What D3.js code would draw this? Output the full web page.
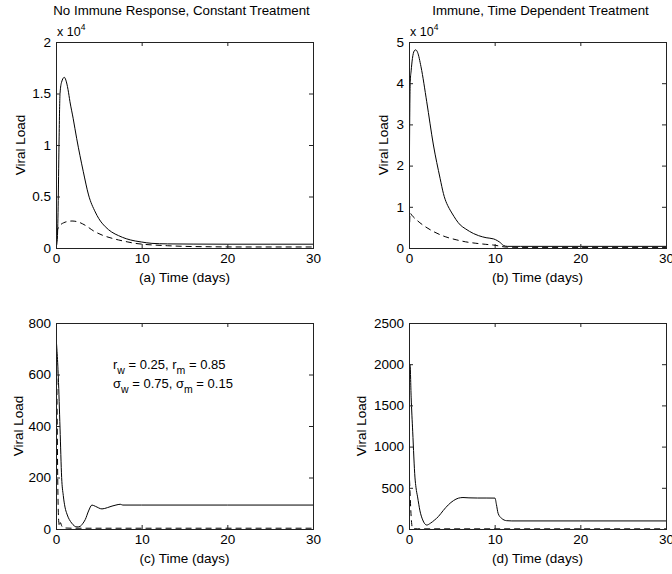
<!DOCTYPE html>
<html>
<head>
<meta charset="utf-8">
<script src="https://cdn.jsdelivr.net/npm/d3@7/dist/d3.min.js"></script>
<style>
  body { margin: 0; background: #fff; }
  svg { font-family: "Liberation Sans", Arial, Helvetica, sans-serif; }
</style>
</head>
<body>
<svg id="chart" width="672" height="574"></svg>
<script>
// (a) no immune response, constant treatment
const aSolidT = [0, 0.03, 0.15, 0.25, 0.35, 0.47, 0.65, 0.97, 1.15, 1.4, 1.63, 2.0, 2.41, 3.19, 3.8, 4.58, 5.0, 5.75, 6.5, 7.3, 8.2, 9.25, 10, 11.2, 13, 16, 20, 25, 30];
const aSolidV = [3800, 200, 800, 4000, 10000, 15000, 16100, 16570, 16300, 15400, 14200, 12600, 10650, 7400, 5150, 3500, 2850, 2070, 1550, 1200, 900, 680, 580, 450, 400, 380, 370, 370, 370];
const aDashT = [0, 0.03, 0.1, 0.3, 0.5, 0.9, 1.4, 1.87, 2.5, 3.42, 4.4, 5.37, 6.3, 7.3, 8.3, 9.25, 10.2, 11.2, 13, 15, 18, 22, 30];
const aDashV = [2500, 1000, 1500, 2000, 2230, 2450, 2580, 2620, 2550, 2200, 1650, 1260, 1000, 780, 600, 450, 360, 300, 220, 160, 120, 100, 100];

// (b) immune, time dependent treatment
const bSolidT = [0, 0.03, 0.06, 0.1, 0.15, 0.25, 0.4, 0.6, 0.78, 1.0, 1.4, 2.07, 2.85, 3.63, 4.02, 4.8, 5.0, 5.98, 6.56, 7.54, 8.12, 9.0, 9.88, 10.3, 10.6, 11.05, 11.5, 13, 20, 30];
const bSolidV = [5000, 11000, 24000, 35000, 40500, 43000, 46000, 47800, 48100, 47500, 44000, 35500, 25000, 16900, 13200, 9200, 8500, 5600, 4700, 3500, 3000, 2500, 2200, 1800, 1400, 600, 400, 400, 400, 400];
const bDashT = [0, 0.05, 0.12, 0.31, 1.0, 1.88, 2.85, 4.22, 5.5, 6.6, 7.8, 8.9, 9.9, 10.5, 11.2, 13, 20, 30];
const bDashV = [11000, 5000, 8500, 8000, 6600, 5200, 4000, 2750, 2000, 1500, 1150, 900, 700, 500, 250, 150, 150, 150];

// (c)
const cSolidT = [0, 0.05, 0.12, 0.27, 0.47, 0.66, 0.85, 1.05, 1.28, 1.83, 2.45, 2.8, 3.1, 3.42, 3.8, 4.2, 4.6, 5.37, 6.0, 6.54, 7.0, 7.5, 7.8, 10, 20, 30];
const cSolidV = [100, 720, 690, 590, 392, 200, 130, 85, 58, 23, 8, 10, 20, 37, 70, 93, 88, 78, 83, 89, 93, 96, 93, 93, 93, 93];
const cDashT = [0, 0.05, 0.12, 0.2, 0.3, 0.4, 0.5, 0.7, 1.0, 2, 30];
const cDashV = [0, 680, 500, 200, 40, 10, 25, 10, 4, 3, 3];

// (d)
const dSolidT = [0, 0.05, 0.12, 0.25, 0.43, 0.7, 0.82, 1.0, 1.28, 1.6, 2.07, 2.5, 3.0, 3.42, 4.0, 4.59, 5.2, 5.76, 6.3, 7, 8, 9, 10.04, 10.2, 10.4, 10.8, 11.4, 12, 20, 30];
const dSolidV = [0, 2000, 2000, 1600, 1187, 620, 500, 390, 220, 110, 48, 70, 110, 150, 225, 293, 345, 374, 382, 378, 376, 376, 375, 300, 191, 130, 101, 98, 98, 98];
const dDashT = [0, 0.05, 0.12, 0.2, 0.3, 0.4, 0.6, 1, 30];
const dDashV = [0, 600, 450, 250, 80, 10, 3, 2, 2];

const xTicks = [0, 10, 20, 30];
const aTicks = [0, 5000, 10000, 15000, 20000];
const bTicks = [0, 10000, 20000, 30000, 40000, 50000];
const cTicks = [0, 200, 400, 600, 800];
const dTicks = [0, 500, 1000, 1500, 2000, 2500];

const titles = ["No Immune Response, Constant Treatment", "Immune, Time Dependent Treatment", "", ""];
const xLabels = ["(a) Time (days)", "(b) Time (days)", "(c) Time (days)", "(d) Time (days)"];

const svg = d3.select("#chart");
const W = 257, H = 206;

const panels = [
  { left: 56, top: 42, ymax: 20000, ticks: aTicks, fmt: d => d / 1e4, ylabOff: 36,
    series: [[aSolidT, aSolidV, false], [aDashT, aDashV, true]], exp: true },
  { left: 409, top: 42, ymax: 50000, ticks: bTicks, fmt: d => d / 1e4, ylabOff: 26,
    series: [[bSolidT, bSolidV, false], [bDashT, bDashV, true]], exp: true },
  { left: 56, top: 323, ymax: 800, ticks: cTicks, fmt: d => d, ylabOff: 38,
    series: [[cSolidT, cSolidV, false], [cDashT, cDashV, true]], exp: false },
  { left: 409, top: 323, ymax: 2500, ticks: dTicks, fmt: d => d, ylabOff: 48,
    series: [[dSolidT, dSolidV, false], [dDashT, dDashV, true]], exp: false }
];

panels.forEach((p, i) => {
  const g = svg.append("g").attr("transform", `translate(${p.left},${p.top})`);
  const x = d3.scaleLinear().domain([0, 30]).range([0, W]);
  const y = d3.scaleLinear().domain([0, p.ymax]).range([H, 0]);

  g.append("clipPath").attr("id", "clip" + i)
    .append("rect").attr("width", W).attr("height", H);

  const line = d3.line()
    .x(d => x(d[0]))
    .y(d => y(d[1]))
    .curve(d3.curveMonotoneX);

  p.series.forEach(s => {
    const pts = s[0].map((t, k) => [t, s[1][k]]);
    g.append("path")
      .attr("clip-path", `url(#clip${i})`)
      .attr("d", line(pts))
      .attr("fill", "none")
      .attr("stroke", "#000")
      .attr("stroke-width", 1)
      .attr("stroke-dasharray", s[2] ? "6,4" : null);
  });

  // axes with inward ticks (box style)
  const styleAxis = sel => {
    sel.select(".domain").remove();
    sel.selectAll("line").attr("stroke", "#222");
    sel.selectAll("text").attr("fill", "#000").style("font-size", "13.5px")
      .style("font-family", '"Liberation Sans", Arial, sans-serif');
  };
  g.append("g").attr("transform", `translate(0,${H})`)
    .call(d3.axisBottom(x).tickValues(xTicks).tickSize(-4).tickPadding(5))
    .call(styleAxis);
  g.append("g")
    .call(d3.axisTop(x).tickValues(xTicks).tickSize(-4).tickFormat(""))
    .call(styleAxis);
  g.append("g")
    .call(d3.axisLeft(y).tickValues(p.ticks).tickSize(-4).tickPadding(5).tickFormat(p.fmt))
    .call(styleAxis);
  g.append("g").attr("transform", `translate(${W},0)`)
    .call(d3.axisRight(y).tickValues(p.ticks).tickSize(-4).tickFormat(""))
    .call(styleAxis);

  g.append("rect")
    .attr("x", 0.5).attr("y", 0.5).attr("width", W).attr("height", H)
    .attr("fill", "none").attr("stroke", "#222").attr("stroke-width", 1);

  // labels
  g.append("text")
    .attr("x", W / 2).attr("y", H + 34)
    .attr("text-anchor", "middle").style("font-size", "13.5px")
    .text(xLabels[i]);
  g.append("text")
    .attr("transform", `translate(${-p.ylabOff},${H / 2}) rotate(-90)`)
    .attr("text-anchor", "middle").attr("dy", "0.35em").style("font-size", "13.5px")
    .text("Viral Load");
  if (titles[i]) {
    g.append("text")
      .attr("x", W / 2 - (i === 0 ? 3 : -3)).attr("y", -27)
      .attr("text-anchor", "middle").style("font-size", "13.3px")
      .text(titles[i]);
  }
  if (p.exp) {
    const t = g.append("text").attr("x", 1).attr("y", -6).style("font-size", "12.5px");
    t.append("tspan").text("x 10");
    t.append("tspan").attr("dy", -6).style("font-size", "8.5px").text("4");
  }
});

// parameter annotation in panel (c)
const ann = svg.append("g").attr("transform", "translate(113,0)").style("font-size", "13px");
const l1 = ann.append("text").attr("y", 369);
l1.append("tspan").text("r");
l1.append("tspan").attr("dy", 5).style("font-size", "10.5px").text("w");
l1.append("tspan").attr("dy", -5).text(" = 0.25, r");
l1.append("tspan").attr("dy", 5).style("font-size", "10.5px").text("m");
l1.append("tspan").attr("dy", -5).text(" = 0.85");
const l2 = ann.append("text").attr("y", 388);
l2.append("tspan").text("\u03c3");
l2.append("tspan").attr("dy", 5).style("font-size", "10.5px").text("w");
l2.append("tspan").attr("dy", -5).text(" = 0.75, \u03c3");
l2.append("tspan").attr("dy", 5).style("font-size", "10.5px").text("m");
l2.append("tspan").attr("dy", -5).text(" = 0.15");
</script>
</body>
</html>
